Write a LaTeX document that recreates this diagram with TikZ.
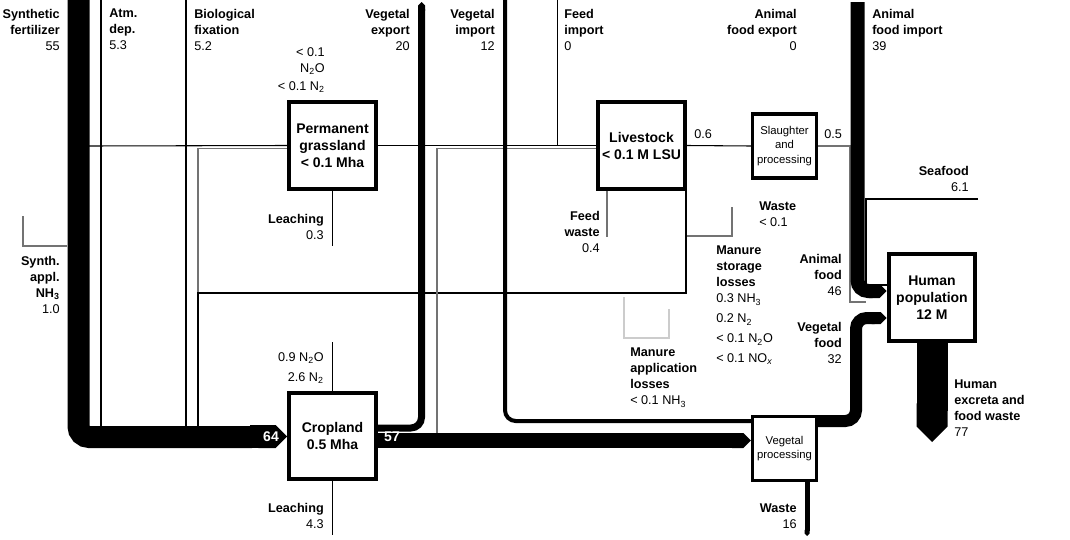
\documentclass[tikz,border=0pt]{standalone}
\usepackage{fontspec}
\setmainfont{Liberation Sans}
\usepackage{tikz}
\usetikzlibrary{
	arrows.meta
}
\tikzset{
	box/.style={
		draw, line width=3pt, minimum size=65pt, inner sep=0pt,
		fill=white, align=center,
		font=\fontsize{10.5}{12.75}\selectfont\bfseries
	},
	minibox/.style={
		draw, line width=2.5pt, minimum size=48pt, inner sep=0pt,
		fill=white, align=center,
		font=\fontsize{8.5}{10.9}\selectfont
	},
	lbl/.style={inner sep=0pt, font=\fontsize{9.5}{12}\selectfont},
	qty/.style={inner sep=0pt, text=white, font=\fontsize{10.5}{12}\selectfont\bfseries},
	flow/.style={line width=#1*0.75pt},
	band/.style={line width=#1*0.75pt, rounded corners=8pt},
	thinflow/.style={line width=0.8pt},
	faint/.style={line width=0.8pt, black!55},
	pale/.style={line width=0.8pt, black!20},
	tip/.style={-{Triangle Cap}}
}

\begin{document}
\begin{tikzpicture}[x=0.75pt, y=-0.75pt]
	\useasboundingbox (0,0) rectangle (1070,539);

	\node[box]     (grass)     at (332.5,145.5) {Permanent\\grassland\\< 0.1 Mha};
	\node[box]     (stock)     at (641.5,145.5) {Livestock\\< 0.1 M LSU};
	\node[box]     (crop)      at (332.5,436)   {Cropland\\0.5 Mha};
	\node[box]     (human)     at (932,297.5)   {Human\\population\\12 M};
	\node[minibox] (slaughter) at (784.5,146)   {Slaughter\\and\\processing};
	\node[minibox] (vegproc)   at (784.5,448.5) {Vegetal\\processing};

	\coordinate (fertsrc)  at (78.5,0);
	\coordinate (atmsrc)   at (101,0);
	\coordinate (biosrc)   at (186,0);
	\coordinate (vegexp)   at (421.5,2);
	\coordinate (vegimp)   at (505,0);
	\coordinate (feedimp)  at (557.5,0);
	\coordinate (animimp)  at (857.5,2);
	\coordinate (seafood)  at (978,199);

	% inputs to cropland
	\draw[band=22] (fertsrc) |- (252,437);
	\draw[flow=2] (atmsrc) -- (101,427);
	\draw[flow=2] (biosrc) -- (186,427);
	\draw[flow=23, tip] (250,436.5) -- (crop.west |- 0,436.5);
	\node[qty] (in64) at (271,437) {64};
	\draw[thinflow] (89,146) -- (grass.west);
	\draw[faint] (198,427) |- ([yshift=-2pt]grass.west);
	\draw[flow=1.5] (stock.south east -| 686,0) |- (198,293) -- (198,427);
	\draw[faint] (67,246) -| (23,216);

	% cropland outputs
	\draw[band=7, tip] ([yshift=6pt]crop.east) -| (vegexp);
	\draw[flow=15, tip] (crop.east |- 0,440.5) -- (vegproc.west |- 0,440.5);
	\node[qty] (out57) at (392,437) {57};
	\draw[faint] (437,433) |- ([yshift=-2pt]stock.west);
	\draw[band=4] (vegimp) |- (vegproc.west |- 0,421);
	\draw[thinflow] (332.5,342) -- (crop.north);
	\draw[flow=1.5] (crop.south) -- (332.5,535);

	% grassland and livestock
	\draw[thinflow] (grass.east) -- (stock.west);
	\draw[thinflow] (feedimp) -- (557.5,145.5);
	\draw[thinflow] (grass.south) -- (332.5,246);
	\draw[faint] (stock.south -| 607,0) -- (607,237);
	\draw[faint] (687,236) -| (732,207);
	\draw[pale] (624,297) |- (669,338) -- (669,309);
	\draw[thinflow] (stock.east) -- (slaughter.west);
	\draw[faint] (slaughter.east) -| (850,302) -- (866,302);

	% food to the population
	\draw[band=14, tip] (animimp) |- (human.west |- 0,291);
	\draw[flow=1.5] (seafood) -| (866,285) -- (human.west |- 0,285);
	\draw[band=12, tip] (vegproc.east |- 0,421) -| (856,318) -- (human.west |- 0,318);
	\draw[flow=31, tip] (human.south) -- (932,442);
	\draw[flow=5, tip] (vegproc.south -| 807,0) -- (807,536);

	% labels
	\node[lbl, anchor=north east, align=right] (fertlbl) at (60,9)
		{\textbf{Synthetic}\\\textbf{fertilizer}\\55};
	\node[lbl, anchor=north west, align=left] (atmlbl) at (109,9)
		{\textbf{Atm.}\\\textbf{dep.}\\5.3};
	\node[lbl, anchor=north west, align=left] (biolbl) at (194,9)
		{\textbf{Biological}\\\textbf{fixation}\\5.2};
	\node[lbl, anchor=north east, align=right] (explbl) at (410,9)
		{\textbf{Vegetal}\\\textbf{export}\\20};
	\node[lbl, anchor=north east, align=right] (implbl) at (495,9)
		{\textbf{Vegetal}\\\textbf{import}\\12};
	\node[lbl, anchor=north west, align=left] (feedlbl) at (564,9)
		{\textbf{Feed}\\\textbf{import}\\0};
	\node[lbl, anchor=north east, align=right] (aexplbl) at (797,9)
		{\textbf{Animal}\\\textbf{food export}\\0};
	\node[lbl, anchor=north west, align=left] (aimplbl) at (872,9)
		{\textbf{Animal}\\\textbf{food import}\\39};
	\node[lbl, anchor=north east, align=right] (grassgas) at (325,47)
		{< 0.1\\N\textsubscript{2}O\\[2pt]< 0.1 N\textsubscript{2}};
	\node[lbl, anchor=north west] (stockout) at (694,129) {0.6};
	\node[lbl, anchor=north west] (slaughterout) at (824,129) {0.5};
	\node[lbl, anchor=north east, align=right] (sealbl) at (969,166)
		{\textbf{Seafood}\\6.1};
	\node[lbl, anchor=north west, align=left] (wastelbl) at (759,202)
		{\textbf{Waste}\\< 0.1};
	\node[lbl, anchor=north east, align=right] (feedwaste) at (600,211)
		{\textbf{Feed}\\\textbf{waste}\\0.4};
	\node[lbl, anchor=north east, align=right] (grassleach) at (324,214)
		{\textbf{Leaching}\\0.3};
	\node[lbl, anchor=north east, align=right] (synthlbl) at (60,256)
		{\textbf{Synth.}\\\textbf{appl.}\\\textbf{NH\textsubscript{3}}\\1.0};
	\node[lbl, anchor=north west, align=left] (storelbl) at (716,246)
		{\textbf{Manure}\\\textbf{storage}\\\textbf{losses}\\0.3 NH\textsubscript{3}\\[3pt]0.2 N\textsubscript{2}\\[3pt]< 0.1 N\textsubscript{2}O\\[3pt]< 0.1 NO\textsubscript{\itshape x}};
	\node[lbl, anchor=north east, align=right] (animlbl) at (842,254)
		{\textbf{Animal}\\\textbf{food}\\46};
	\node[lbl, anchor=north east, align=right] (veglbl) at (842,322)
		{\textbf{Vegetal}\\\textbf{food}\\32};
	\node[lbl, anchor=north west, align=left] (applbl) at (630,348)
		{\textbf{Manure}\\\textbf{application}\\\textbf{losses}\\< 0.1 NH\textsubscript{3}};
	\node[lbl, anchor=north east, align=right] (cropgas) at (324,352)
		{0.9 N\textsubscript{2}O\\[3pt]2.6 N\textsubscript{2}};
	\node[lbl, anchor=north west, align=left] (excretalbl) at (954,380)
		{\textbf{Human}\\\textbf{excreta and}\\\textbf{food waste}\\77};
	\node[lbl, anchor=north east, align=right] (cropleach) at (324,503)
		{\textbf{Leaching}\\4.3};
	\node[lbl, anchor=north east, align=right] (proclbl) at (797,504)
		{\textbf{Waste}\\16};
\end{tikzpicture}
\end{document}
